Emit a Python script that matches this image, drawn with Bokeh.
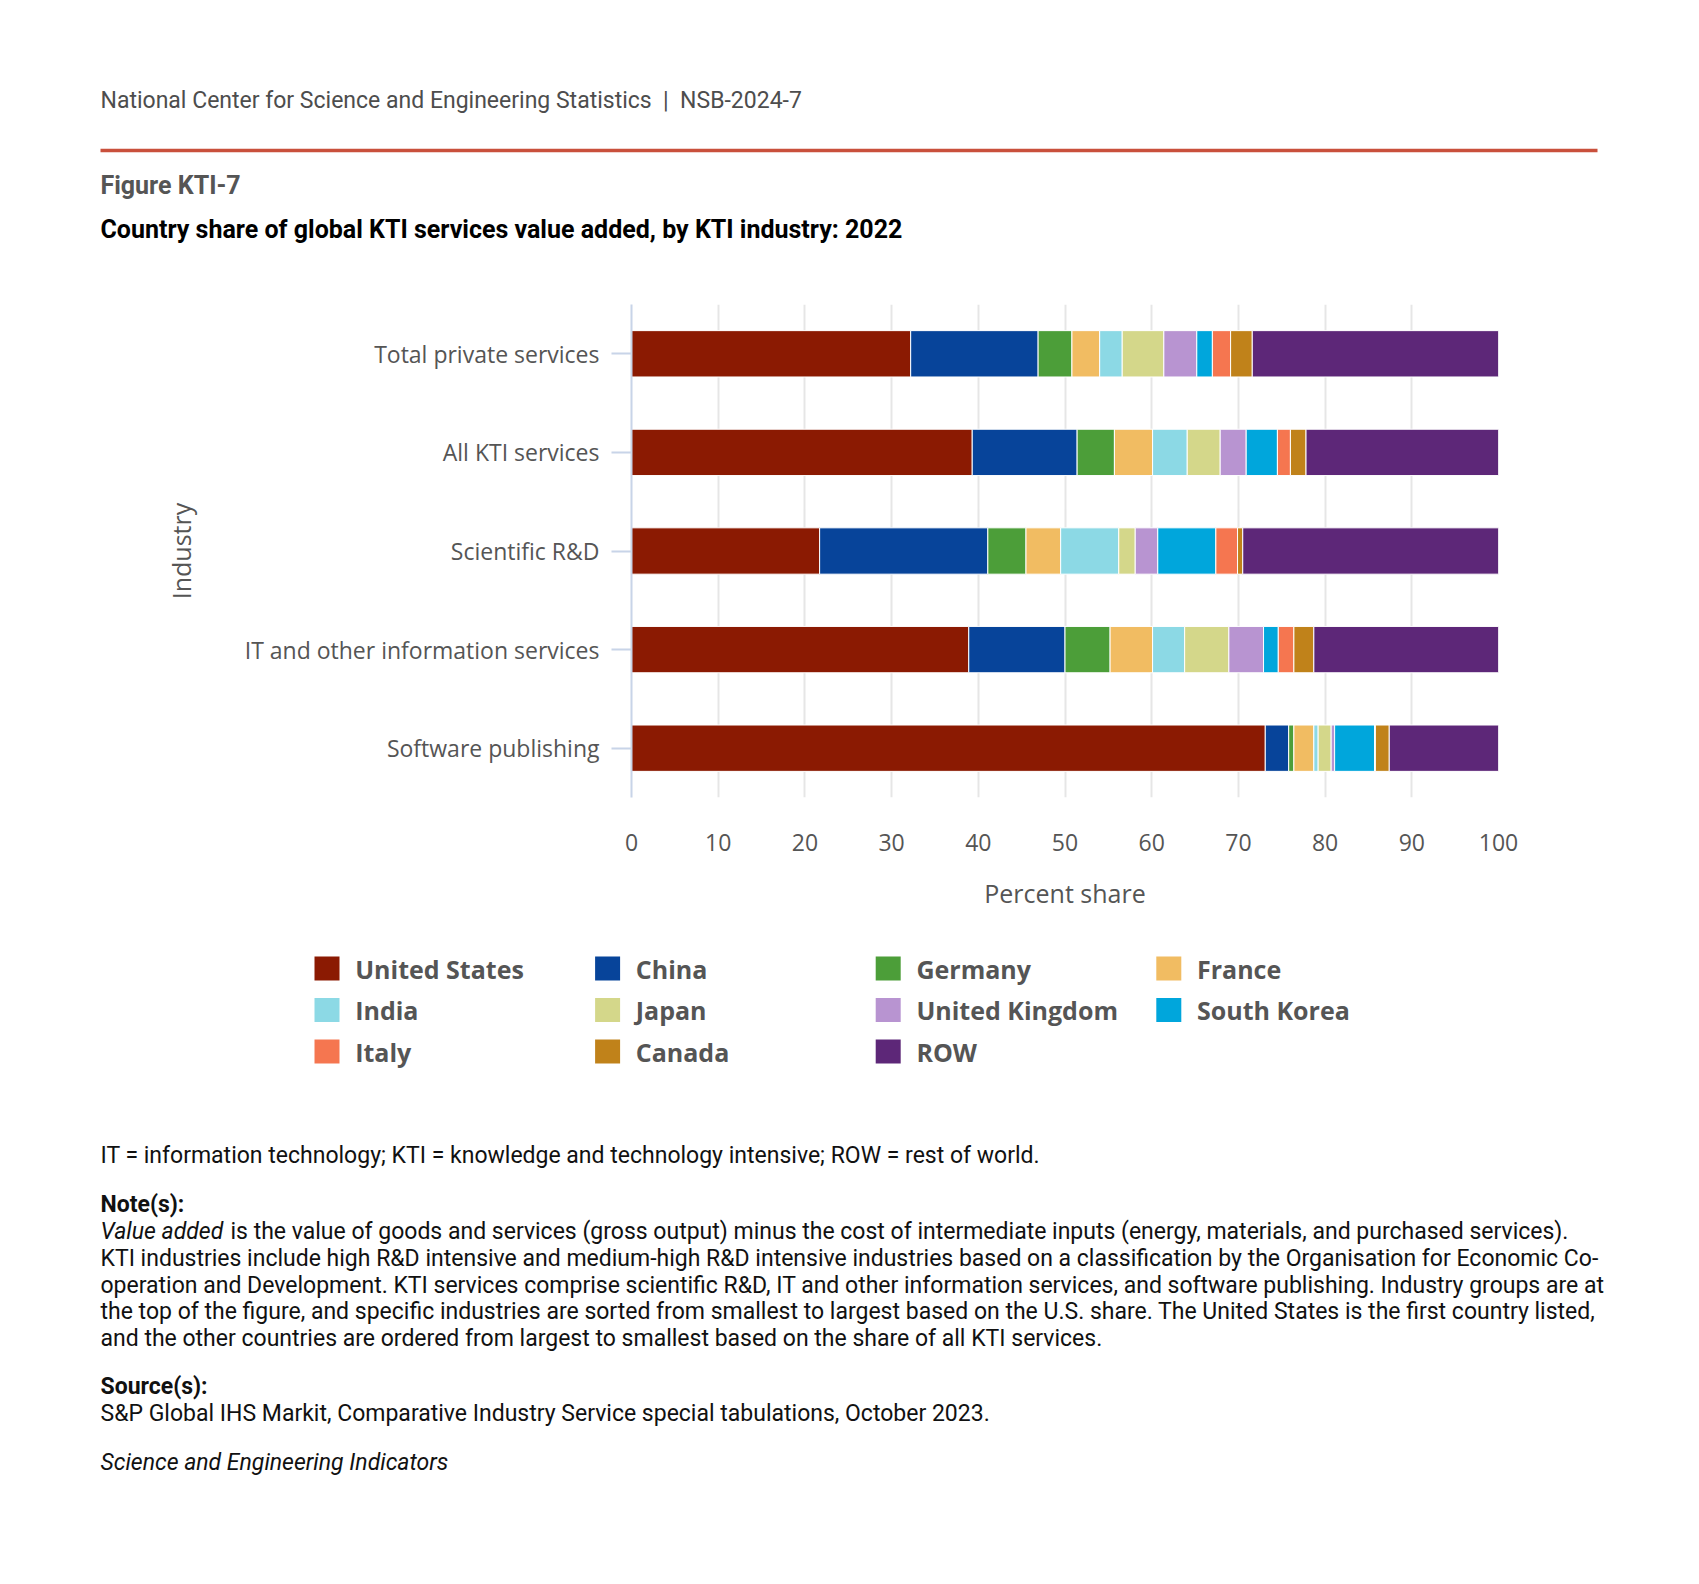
from bokeh.plotting import figure
from bokeh.models import ColumnDataSource, Range1d, FactorRange, FixedTicker
from bokeh.layouts import column
from bokeh.core.properties import value
from bokeh.embed import file_html
from bokeh.resources import INLINE

# ---------------- data ----------------
industries = ["Total private services", "All KTI services", "Scientific R&D",
              "IT and other information services", "Software publishing"]
countries = ["United States", "China", "Germany", "France", "India", "Japan",
             "United Kingdom", "South Korea", "Italy", "Canada", "ROW"]
colors = ["#8b1a02", "#07449a", "#4c9e39", "#f1bc62", "#8cd9e5", "#d4d78a",
          "#b894d1", "#00a6dc", "#f57650", "#c0821a", "#5d2778"]

united_states = [32.2, 39.3, 21.7, 38.9, 73.1]
china = [14.7, 12.1, 19.4, 11.1, 2.7]
germany = [3.9, 4.3, 4.4, 5.2, 0.6]
france = [3.2, 4.4, 4.0, 4.9, 2.3]
india = [2.6, 4.0, 6.7, 3.7, 0.5]
japan = [4.8, 3.8, 1.9, 5.1, 1.5]
united_kingdom = [3.8, 3.0, 2.6, 4.0, 0.4]
south_korea = [1.8, 3.6, 6.7, 1.7, 4.6]
italy = [2.1, 1.5, 2.5, 1.8, 0.1]
canada = [2.5, 1.8, 0.6, 2.3, 1.6]
row = [28.4, 22.2, 29.5, 21.3, 12.6]

x_ticks = [0, 10, 20, 30, 40, 50, 60, 70, 80, 90, 100]

header_text = "National Center for Science and Engineering Statistics \u00a0|\u00a0 NSB-2024-7"
figure_label = "Figure KTI-7"
title_text = "Country share of global KTI services value added, by KTI industry: 2022"
abbrev_text = "IT = information technology; KTI = knowledge and technology intensive; ROW = rest of world."
note_head = "Note(s):"
note_italic = "Value added"
note_lines = [
    "is the value of goods and services (gross output) minus the cost of intermediate inputs (energy, materials, and purchased services).",
    "KTI industries include high R&D intensive and medium-high R&D intensive industries based on a classification by the Organisation for Economic Co-",
    "operation and Development. KTI services comprise scientific R&D, IT and other information services, and software publishing. Industry groups are at",
    "the top of the figure, and specific industries are sorted from smallest to largest based on the U.S. share. The United States is the first country listed,",
    "and the other countries are ordered from largest to smallest based on the share of all KTI services.",
]
source_head = "Source(s):"
source_text = "S&P Global IHS Markit, Comparative Industry Service special tabulations, October 2023."
credit_text = "Science and Engineering Indicators"

series = [united_states, china, germany, france, india, japan,
          united_kingdom, south_korea, italy, canada, row]

W = 1683
HEAD_H = 270
CHART_H = 650
FOOT_H = 648
ROBOTO = value("Roboto")
OPEN = value("Open Sans")


def blank(h):
    f = figure(width=W, height=h, x_range=Range1d(0, W), y_range=Range1d(h, 0),
               x_axis_type=None, y_axis_type=None, toolbar_location=None,
               output_backend="svg", min_border=0, outline_line_color=None,
               frame_align=False)
    f.grid.visible = False
    return f


def txt(f, s, x, y, size, style="normal", color="#111111"):
    f.text(x=[x], y=[y], text=[s], text_font=ROBOTO, text_font_size=size,
           text_font_style=style, text_color=color, text_baseline="middle",
           text_align="left")


# ---------------- header ----------------
head = blank(HEAD_H)
txt(head, header_text, 100, 100, "23px", color="#4d4d4d")
head.segment(x0=[100], y0=[150], x1=[1597], y1=[150], line_color="#c9503c", line_width=3.5)
txt(head, figure_label, 100, 185, "25px", "bold", "#555555")
txt(head, title_text, 100, 229, "25px", "bold", "#000000")

# ---------------- chart ----------------
data = {"industry": industries}
for name, vals in zip(countries, series):
    data[name] = vals
src = ColumnDataSource(data)

p = figure(width=W, height=CHART_H, y_range=FactorRange(*industries[::-1], range_padding=0),
           x_range=Range1d(0, 100), toolbar_location=None, output_backend="svg",
           min_border_left=631, min_border_right=185, min_border_top=34, min_border_bottom=123,
           outline_line_color=None, frame_align=False)
p.hbar_stack(countries, y="industry", height=0.47, color=colors, source=src,
             line_color="white", line_width=1)

p.ygrid.visible = False
p.xgrid.grid_line_color = "#e6e6e6"
p.xgrid.grid_line_width = 2
p.xaxis.ticker = FixedTicker(ticks=x_ticks)
p.xaxis.axis_line_color = None
p.xaxis.major_tick_line_color = None
p.xaxis.minor_tick_line_color = None
p.xaxis.major_tick_out = 0
p.xaxis.major_tick_in = 0
p.xaxis.major_label_standoff = 36
p.xaxis.major_label_text_font = "Open Sans"
p.xaxis.major_label_text_font_size = "23px"
p.xaxis.major_label_text_color = "#555555"
p.xaxis.axis_label = "Percent share"
p.xaxis.axis_label_text_font = "Open Sans"
p.xaxis.axis_label_text_font_size = "25px"
p.xaxis.axis_label_text_font_style = "normal"
p.xaxis.axis_label_text_color = "#555555"
p.xaxis.axis_label_standoff = 22

p.yaxis.axis_line_color = "#c8d4e8"
p.yaxis.axis_line_width = 2
p.yaxis.major_tick_line_color = "#c8d4e8"
p.yaxis.major_tick_line_width = 2
p.yaxis.major_tick_out = 20
p.yaxis.major_tick_in = 0
p.yaxis.major_label_standoff = 12
p.yaxis.major_label_text_font = "Open Sans"
p.yaxis.major_label_text_font_size = "23px"
p.yaxis.major_label_text_color = "#555555"
p.yaxis.axis_label = "Industry"
p.yaxis.axis_label_text_font = "Open Sans"
p.yaxis.axis_label_text_font_size = "25px"
p.yaxis.axis_label_text_font_style = "normal"
p.yaxis.axis_label_text_color = "#555555"
p.yaxis.axis_label_standoff = 44

# ---------------- legend + footer ----------------
foot = blank(FOOT_H)
col_w = 280.6
lx = [314 + (i % 4) * col_w for i in range(len(countries))]
ly = [48 + (i // 4) * 41.5 for i in range(len(countries))]
foot.rect(x=[v + 12.5 for v in lx], y=ly, width=25, height=24, fill_color=colors,
          line_color=None)
foot.text(x=[v + 40.7 for v in lx], y=ly, text=countries, text_font=OPEN,
          text_font_size="25px", text_font_style="bold", text_color="#555555",
          text_baseline="middle", text_align="left")

fs = "23px"
txt(foot, abbrev_text, 100, 235, fs)
txt(foot, note_head, 100, 284, fs, "bold")
txt(foot, note_italic, 100, 311, fs, "italic")
for i, line in enumerate(note_lines):
    txt(foot, line, 230 if i == 0 else 100, 311 + 26.8 * i, fs)
txt(foot, source_head, 100, 466, fs, "bold")
txt(foot, source_text, 100, 493, fs)
txt(foot, credit_text, 100, 542, fs, "italic")

layout = column(head, p, foot, spacing=0)
open("out.html", "w").write(file_html(layout, INLINE))
